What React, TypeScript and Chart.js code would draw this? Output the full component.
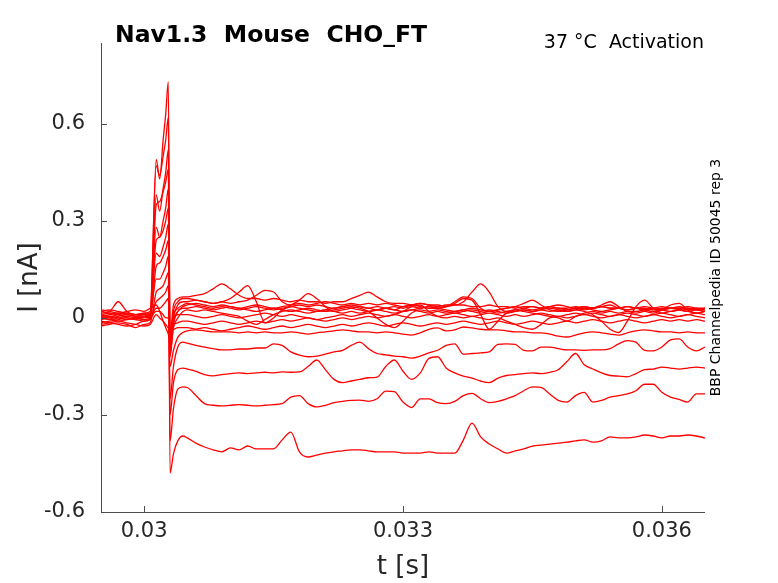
import React, { useEffect, useRef } from 'react';
import { Chart, registerables } from 'chart.js';

Chart.register(...registerables);

// time samples [s] (denser around the step transient)
const T = [
  0.0295, 0.0296, 0.0297, 0.0298, 0.0299, 0.03, 0.03007,
  0.03014, 0.03018, 0.03022, 0.03025, 0.03028,
  0.0303, 0.03034, 0.03039, 0.03045,
  0.0305, 0.0306, 0.0307, 0.0308, 0.0309, 0.031, 0.0311, 0.0312, 0.0313, 0.0314,
  0.0315, 0.0316, 0.0317, 0.0318, 0.0319, 0.032, 0.0321, 0.0322, 0.0323, 0.0324,
  0.0325, 0.0326, 0.0327, 0.0328, 0.0329, 0.033, 0.0331, 0.0332, 0.0333, 0.0334,
  0.0335, 0.0336, 0.0337, 0.0338, 0.0339, 0.034, 0.0341, 0.0342, 0.0343, 0.0344,
  0.0345, 0.0346, 0.0347, 0.0348, 0.0349, 0.035, 0.0351, 0.0352, 0.0353, 0.0354,
  0.0355, 0.0356, 0.0357, 0.0358, 0.0359, 0.036, 0.0361, 0.0362, 0.0363, 0.0364,
  0.0365,
];

// current traces [nA], one per voltage step
const trace01 = [
  0.01, 0.015, 0.01, 0.005, 0.01, 0.005, 0.01,
  0.49, 0.43, 0.55, 0.63, 0.73,
  -0.05, 0.04, 0.06, 0.065,
  0.065, 0.07, 0.075, 0.09, 0.105, 0.09, 0.07, 0.06, 0.06, 0.055,
  0.06, 0.055, 0.05, 0.055, 0.05, 0.05, 0.045, 0.05, 0.05, 0.06,
  0.07, 0.08, 0.065, 0.05, 0.045, 0.045, 0.04, 0.045, 0.04, 0.04,
  0.035, 0.04, 0.04, 0.035, 0.035, 0.04, 0.035, 0.035, 0.03, 0.035,
  0.035, 0.03, 0.035, 0.03, 0.03, 0.035, 0.03, 0.03, 0.035, 0.03,
  0.03, 0.025, 0.03, 0.03, 0.025, 0.03, 0.03, 0.035, 0.03, 0.025,
  0.03,
];
const trace02 = [
  0.02, 0.025, 0.02, 0.015, 0.01, 0.015, 0.02,
  0.47, 0.44, 0.5, 0.55, 0.62,
  -0.08, 0.02, 0.05, 0.06,
  0.06, 0.055, 0.05, 0.045, 0.05, 0.06, 0.08, 0.1, 0.05, -0.015,
  0.0, 0.025, 0.035, 0.04, 0.035, 0.04, 0.035, 0.03, 0.035, 0.04,
  0.035, 0.03, 0.035, 0.03, 0.025, 0.035, 0.04, 0.035, 0.03, 0.03,
  0.035, 0.05, 0.065, 0.06, 0.03, 0.02, 0.025, 0.03, 0.035, 0.03,
  0.025, 0.03, 0.035, 0.03, 0.025, 0.03, 0.035, 0.03, 0.035, 0.04,
  0.03, 0.025, 0.03, 0.035, 0.03, 0.025, 0.03, 0.03, 0.035, 0.03,
  0.025,
];
const trace03 = [
  0.005, 0.0, 0.005, 0.01, 0.005, 0.0, 0.005,
  0.38, 0.33, 0.4, 0.45, 0.52,
  -0.1, 0.0, 0.04, 0.05,
  0.05, 0.055, 0.05, 0.045, 0.05, 0.045, 0.05, 0.055, 0.07, 0.085,
  0.08, 0.05, 0.04, 0.045, 0.04, 0.045, 0.05, 0.045, 0.04, 0.045,
  0.04, 0.045, 0.04, 0.045, 0.04, 0.035, 0.04, 0.045, 0.04, 0.035,
  0.04, 0.04, 0.05, 0.08, 0.105, 0.08, 0.035, 0.02, 0.025, 0.03,
  0.035, 0.03, 0.035, 0.04, 0.035, 0.03, 0.035, 0.03, 0.035, 0.03,
  0.03, 0.035, 0.03, 0.025, 0.03, 0.035, 0.03, 0.03, 0.025, 0.03,
  0.03,
];
const trace04 = [
  -0.01, -0.015, -0.02, -0.025, -0.02, -0.01, -0.005,
  0.35, 0.36, 0.39, 0.42, 0.46,
  -0.48, -0.42, -0.38, -0.365,
  -0.371, -0.387, -0.399, -0.408, -0.414, -0.402, -0.408, -0.396, -0.405, -0.405,
  -0.405, -0.377, -0.353, -0.414, -0.43, -0.424, -0.418, -0.414, -0.411, -0.408,
  -0.408, -0.411, -0.414, -0.414, -0.414, -0.418, -0.418, -0.418, -0.414, -0.418,
  -0.418, -0.418, -0.377, -0.325, -0.368, -0.39, -0.405, -0.418, -0.411, -0.405,
  -0.396, -0.393, -0.39, -0.387, -0.384, -0.38, -0.377, -0.384, -0.38, -0.368,
  -0.371, -0.371, -0.368, -0.362, -0.365, -0.371, -0.365, -0.365, -0.362, -0.365,
  -0.371,
];
const trace05 = [
  0.015, 0.02, 0.05, 0.02, 0.01, 0.015, 0.01,
  0.28, 0.25, 0.3, 0.34, 0.4,
  -0.12, -0.02, 0.02, 0.035,
  0.04, 0.045, 0.04, 0.035, 0.04, 0.035, 0.03, 0.035, 0.04, 0.035,
  0.03, 0.035, 0.04, 0.055, 0.075, 0.06, 0.035, 0.02, 0.025, 0.03,
  0.035, 0.03, 0.025, 0.03, 0.035, 0.03, 0.035, 0.03, 0.035, 0.03,
  0.035, 0.045, 0.06, 0.055, 0.01, -0.035, -0.01, 0.015, 0.02, 0.025,
  0.02, 0.025, 0.03, 0.025, 0.02, 0.025, 0.03, 0.025, 0.02, 0.025,
  0.03, 0.035, 0.03, 0.025, 0.02, 0.025, 0.03, 0.025, 0.02, 0.025,
  0.02,
];
const trace06 = [
  0.0, 0.005, 0.0, -0.005, 0.0, -0.005, 0.0,
  0.24, 0.25, 0.27, 0.3, 0.34,
  -0.38, -0.28, -0.22, -0.213,
  -0.215, -0.24, -0.265, -0.27, -0.272, -0.27, -0.268, -0.27, -0.272, -0.27,
  -0.268, -0.265, -0.245, -0.24, -0.265, -0.275, -0.27, -0.262, -0.258, -0.255,
  -0.254, -0.258, -0.25, -0.226, -0.228, -0.26, -0.277, -0.25, -0.25, -0.262,
  -0.265, -0.258, -0.24, -0.233, -0.25, -0.262, -0.258, -0.25, -0.24, -0.225,
  -0.213, -0.215, -0.235, -0.255, -0.26, -0.24, -0.23, -0.26, -0.255, -0.245,
  -0.24, -0.235, -0.225, -0.205, -0.205, -0.23, -0.245, -0.252, -0.26, -0.235,
  -0.235,
];
const trace07 = [
  0.01, 0.005, 0.01, 0.015, 0.01, 0.01, 0.015,
  0.2, 0.19, 0.22, 0.25, 0.29,
  -0.06, 0.01, 0.03, 0.04,
  0.045, 0.04, 0.035, 0.03, 0.035, 0.03, 0.025, 0.03, 0.035, 0.03,
  0.025, 0.03, 0.035, 0.03, 0.025, 0.02, 0.025, 0.03, 0.035, 0.03,
  0.025, 0.02, 0.025, 0.03, 0.025, 0.02, 0.025, 0.03, 0.035, 0.03,
  0.025, 0.02, 0.025, 0.03, 0.025, 0.02, 0.025, 0.03, 0.035, 0.045,
  0.055, 0.04, 0.025, 0.02, 0.025, 0.03, 0.025, 0.03, 0.04, 0.05,
  0.035, 0.02, 0.02, 0.025, 0.03, 0.025, 0.02, 0.025, 0.03, 0.025,
  0.02,
];
const trace08 = [
  -0.005, 0.0, -0.01, -0.005, 0.0, 0.005, 0.0,
  0.16, 0.17, 0.19, 0.21, 0.24,
  -0.3, -0.2, -0.16, -0.155,
  -0.158, -0.165, -0.175, -0.179, -0.175, -0.172, -0.17, -0.172, -0.17, -0.168,
  -0.17, -0.167, -0.168, -0.167, -0.15, -0.13, -0.16, -0.19, -0.2, -0.195,
  -0.19, -0.185, -0.183, -0.15, -0.13, -0.165, -0.19, -0.17, -0.125, -0.12,
  -0.155, -0.17, -0.18, -0.186, -0.195, -0.2, -0.186, -0.178, -0.175, -0.172,
  -0.17, -0.172, -0.168, -0.16, -0.135, -0.11, -0.145, -0.158, -0.17, -0.178,
  -0.18, -0.182, -0.172, -0.16, -0.158, -0.152, -0.155, -0.158, -0.155, -0.152,
  -0.155,
];
const trace09 = [
  0.02, 0.015, 0.01, 0.0, -0.005, 0.005, 0.01,
  0.12, 0.12, 0.14, 0.16, 0.19,
  -0.09, -0.01, 0.02, 0.03,
  0.03, 0.035, 0.03, 0.025, 0.03, 0.035, 0.03, 0.025, 0.02, 0.025,
  0.03, 0.025, 0.02, 0.025, 0.03, 0.025, 0.02, 0.025, 0.03, 0.035,
  0.03, 0.02, 0.0, -0.02, -0.03, -0.01, 0.015, 0.025, 0.02, 0.025,
  0.02, 0.015, 0.02, 0.025, 0.02, 0.025, 0.02, 0.015, 0.02, 0.025,
  0.02, 0.025, 0.02, 0.025, 0.02, 0.025, 0.02, 0.01, -0.01, -0.035,
  -0.045, -0.01, 0.035, 0.055, 0.03, 0.015, 0.02, 0.025, 0.02, 0.015,
  0.02,
];
const trace10 = [
  -0.025, -0.02, -0.015, -0.02, -0.03, -0.02, -0.015,
  0.08, 0.09, 0.1, 0.12, 0.14,
  -0.25, -0.15, -0.09, -0.075,
  -0.078, -0.085, -0.09, -0.095, -0.099, -0.099, -0.096, -0.096, -0.093, -0.093,
  -0.08, -0.085, -0.105, -0.115, -0.12, -0.118, -0.112, -0.105, -0.1, -0.085,
  -0.075, -0.095, -0.11, -0.114, -0.118, -0.12, -0.124, -0.118, -0.108, -0.1,
  -0.085, -0.08, -0.112, -0.11, -0.108, -0.105, -0.082, -0.08, -0.082, -0.1,
  -0.102, -0.09, -0.09, -0.095, -0.099, -0.099, -0.1, -0.099, -0.099, -0.095,
  -0.08, -0.07, -0.075, -0.1, -0.102, -0.09, -0.068, -0.065, -0.09, -0.102,
  -0.09,
];
const trace11 = [
  0.005, 0.01, 0.015, 0.01, 0.005, 0.01, 0.0,
  0.05, 0.06, 0.07, 0.08, 0.1,
  -0.11, -0.03, 0.0, 0.02,
  0.025, 0.02, 0.025, 0.02, 0.015, 0.01, 0.005, -0.01, -0.02, -0.005,
  0.01, 0.02, 0.025, 0.02, 0.015, 0.02, 0.025, 0.02, 0.015, 0.02,
  0.015, 0.02, 0.025, 0.02, 0.015, 0.02, 0.025, 0.02, 0.015, 0.02,
  0.015, 0.02, 0.025, 0.02, 0.015, 0.02, 0.015, 0.02, 0.025, 0.02,
  0.015, 0.01, 0.005, 0.0, -0.01, 0.005, 0.015, 0.02, 0.015, 0.02,
  0.015, 0.02, 0.015, 0.02, 0.015, 0.025, 0.04, 0.045, 0.025, 0.015,
  0.02,
];
const trace12 = [
  -0.015, -0.01, -0.005, 0.0, -0.005, -0.01, -0.005,
  0.03, 0.03, 0.04, 0.05, 0.06,
  -0.15, -0.1, -0.06, -0.045,
  -0.04, -0.037, -0.04, -0.043, -0.043, -0.043, -0.046, -0.043, -0.046, -0.043,
  -0.046, -0.046, -0.043, -0.046, -0.05, -0.046, -0.043, -0.04, -0.037, -0.04,
  -0.043, -0.043, -0.046, -0.043, -0.046, -0.05, -0.053, -0.046, -0.035, -0.031,
  -0.04, -0.037, -0.028, -0.031, -0.035, -0.037, -0.037, -0.04, -0.043, -0.043,
  -0.046, -0.046, -0.05, -0.056, -0.059, -0.053, -0.046, -0.043, -0.046, -0.05,
  -0.053, -0.046, -0.04, -0.037, -0.04, -0.043, -0.043, -0.046, -0.043, -0.046,
  -0.046,
];
const trace13 = [
  0.025, 0.02, 0.015, 0.02, 0.025, 0.02, 0.03,
  0.04, 0.02, -0.01, -0.03, -0.05,
  -0.07, 0.0, 0.01, 0.01,
  0.01, 0.005, 0.0, 0.005, 0.01, 0.005, 0.0, 0.005, 0.01, 0.015,
  0.01, 0.005, 0.01, 0.005, 0.0, -0.005, 0.0, 0.005, 0.01, 0.005,
  0.01, 0.015, 0.01, 0.005, 0.01, 0.005, 0.0, 0.005, 0.01, 0.005,
  0.01, 0.015, 0.01, 0.005, 0.01, 0.015, 0.01, 0.005, 0.01, 0.005,
  0.01, 0.015, 0.01, 0.005, 0.01, 0.015, 0.01, 0.015, 0.01, 0.005,
  0.01, 0.015, 0.01, 0.005, 0.01, 0.015, 0.01, 0.005, 0.01, 0.015,
  0.01,
];
const trace14 = [
  0.0, -0.005, 0.0, 0.005, 0.0, -0.005, 0.0,
  0.02, 0.02, 0.01, 0.0, 0.0,
  -0.04, -0.02, -0.015, -0.01,
  -0.01, -0.015, -0.02, -0.015, -0.01, -0.015, -0.02, -0.015, -0.01, -0.015,
  -0.01, -0.005, -0.01, -0.005, 0.0, -0.005, -0.01, -0.005, 0.0, -0.005,
  0.0, 0.005, 0.0, 0.005, 0.01, 0.02, 0.035, 0.04, 0.02, 0.005,
  0.0, 0.005, 0.0, 0.005, 0.0, -0.005, 0.0, -0.01, -0.02, -0.03,
  -0.035, -0.02, 0.0, 0.005, 0.0, 0.005, 0.01, 0.005, 0.0, 0.005,
  0.01, 0.005, 0.0, 0.005, 0.01, 0.005, 0.0, 0.005, 0.01, 0.005,
  0.0,
];
const trace15 = [
  -0.02, -0.015, -0.01, -0.015, -0.02, -0.025, -0.02,
  0.01, 0.0, -0.01, -0.02, -0.03,
  -0.03, -0.035, -0.03, -0.03,
  -0.03, -0.035, -0.03, -0.035, -0.04, -0.035, -0.03, -0.025, -0.03, -0.035,
  -0.03, -0.025, -0.03, -0.025, -0.02, -0.025, -0.03, -0.025, -0.02, -0.025,
  -0.02, -0.015, -0.02, -0.025, -0.02, -0.015, -0.02, -0.025, -0.02, -0.015,
  -0.02, -0.015, -0.01, -0.015, -0.02, -0.015, -0.01, -0.015, -0.02, -0.015,
  -0.01, -0.015, -0.02, -0.015, -0.01, -0.015, -0.01, -0.005, -0.01, -0.015,
  -0.01, -0.005, -0.01, -0.015, -0.01, -0.005, -0.01, -0.005, -0.01, -0.005,
  -0.01,
];

const TRACES = [
  trace01, trace02, trace03, trace04, trace05, trace06, trace07, trace08,
  trace09, trace10, trace11, trace12, trace13, trace14, trace15,
];

const X_TICKS = [0.03, 0.033, 0.036];
const Y_TICKS = [-0.6, -0.3, 0, 0.3, 0.6];

const FONT = '"DejaVu Sans", sans-serif';
const TEXT = '#262626';

// axis lines, inward ticks and all free text
const decorations = {
  id: 'decorations',
  afterDraw(chart: any) {
    const { ctx, chartArea, scales } = chart;
    const { left, right, top, bottom } = chartArea;
    ctx.save();
    ctx.strokeStyle = '#4d4d4d';
    ctx.lineWidth = 1;
    ctx.beginPath();
    ctx.moveTo(left + 0.5, top);
    ctx.lineTo(left + 0.5, bottom + 0.5);
    ctx.lineTo(right, bottom + 0.5);
    X_TICKS.forEach((v) => {
      const px = Math.round(scales.x.getPixelForValue(v)) + 0.5;
      ctx.moveTo(px, bottom);
      ctx.lineTo(px, bottom - 6);
    });
    Y_TICKS.forEach((v) => {
      const py = Math.round(scales.y.getPixelForValue(v)) + 0.5;
      ctx.moveTo(left, py);
      ctx.lineTo(left + 6, py);
    });
    ctx.stroke();

    ctx.fillStyle = '#000';
    ctx.textBaseline = 'alphabetic';
    ctx.textAlign = 'left';
    ctx.font = `bold 23.5px ${FONT}`;
    ctx.fillText('Nav1.3  Mouse  CHO_FT', 115, 42);
    ctx.textAlign = 'right';
    ctx.font = `19px ${FONT}`;
    ctx.fillText('37 °C  Activation', 704, 48);

    ctx.fillStyle = TEXT;
    ctx.textAlign = 'center';
    ctx.textBaseline = 'middle';
    ctx.font = `26px ${FONT}`;
    ctx.fillText('t [s]', (left + right) / 2, 567);
    ctx.save();
    ctx.translate(30, (top + bottom) / 2);
    ctx.rotate(-Math.PI / 2);
    ctx.fillText('I [nA]', 0, 0);
    ctx.restore();

    ctx.fillStyle = '#000';
    ctx.font = `14px ${FONT}`;
    ctx.save();
    ctx.translate(716, (top + bottom) / 2);
    ctx.rotate(-Math.PI / 2);
    ctx.fillText('BBP Channelpedia ID 50045 rep 3', 0, 0);
    ctx.restore();
    ctx.restore();
  },
};

const fmt = (v: number) => String(Number(v.toFixed(4)));

export default function App() {
  const chartRef = useRef<HTMLCanvasElement>(null);
  const chartInstance = useRef<Chart | null>(null);

  useEffect(() => {
    if (!chartRef.current) return;
    const ctx = chartRef.current.getContext('2d');
    if (!ctx) return;
    if (chartInstance.current) chartInstance.current.destroy();

    const datasets = TRACES.map((trace, i) => ({
      label: `trace ${i + 1}`,
      data: T.map((t, j) => ({ x: t, y: trace[j] })),
      borderColor: '#ff0000',
      borderWidth: 1.3,
      pointRadius: 0,
      fill: false,
      cubicInterpolationMode: 'monotone' as const,
    }));

    chartInstance.current = new Chart(ctx, {
      type: 'line',
      data: { datasets },
      options: {
        animation: false,
        responsive: true,
        maintainAspectRatio: false,
        events: [],
        layout: { padding: { top: 43, right: 73, left: 0, bottom: 0 } },
        plugins: {
          legend: { display: false },
          tooltip: { enabled: false },
        },
        scales: {
          x: {
            type: 'linear',
            min: 0.0295,
            max: 0.0365,
            grid: { display: false, drawTicks: false },
            border: { display: false },
            afterBuildTicks: (scale: any) => {
              scale.ticks = X_TICKS.map((value) => ({ value }));
            },
            afterFit: (scale: any) => {
              scale.height = 71;
            },
            ticks: {
              autoSkip: false,
              maxRotation: 0,
              padding: 7,
              color: TEXT,
              font: { family: FONT, size: 21 },
              callback: (v: any) => fmt(Number(v)),
            },
          },
          y: {
            type: 'linear',
            min: -0.6,
            max: 0.85,
            grid: { display: false, drawTicks: false },
            border: { display: false },
            afterBuildTicks: (scale: any) => {
              scale.ticks = Y_TICKS.map((value) => ({ value }));
            },
            afterFit: (scale: any) => {
              scale.width = 101;
            },
            ticks: {
              autoSkip: false,
              padding: 16,
              color: TEXT,
              font: { family: FONT, size: 21 },
              callback: (v: any) => fmt(Number(v)),
            },
          },
        },
      },
      plugins: [decorations],
    });

    return () => {
      if (chartInstance.current) {
        chartInstance.current.destroy();
        chartInstance.current = null;
      }
    };
  }, []);

  return (
    <div style={{ position: 'fixed', left: 0, top: 0, width: 778, height: 583, background: '#fff' }}>
      <canvas ref={chartRef}></canvas>
    </div>
  );
}
